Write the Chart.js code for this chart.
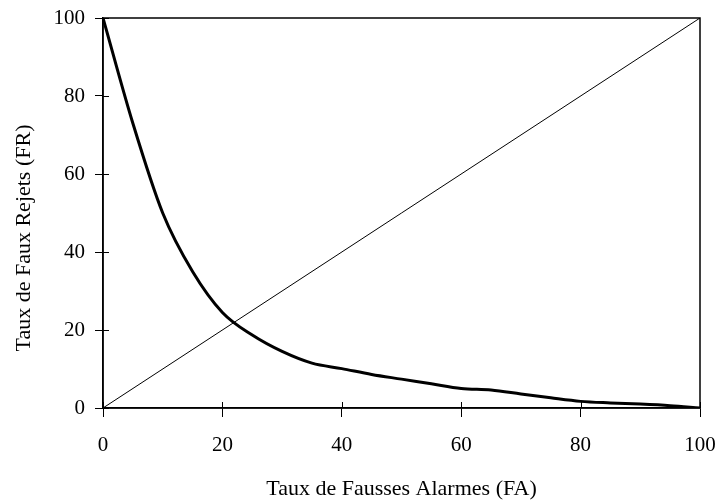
<!DOCTYPE html>
<html>
<head>
<meta charset="utf-8">
<title>Taux FA / FR</title>
<script src="https://cdn.jsdelivr.net/npm/chart.js@4/dist/chart.umd.min.js"></script>
<style>
  html, body { margin: 0; padding: 0; background: #fff; }
  #wrap { width: 719px; height: 503px; }
</style>
</head>
<body>
<div id="wrap"><canvas id="chart"></canvas></div>
<script>
  'use strict';

  // Data
  const faValues = [0, 5, 10, 15, 20, 25, 30, 35, 40, 45, 50, 55, 60, 65, 70, 75, 80, 85, 90, 95, 100];
  const frValues = [100, 73, 50, 35, 24.5, 18.7, 14.5, 11.5, 10.1, 8.6, 7.4, 6.2, 5.0, 4.6, 3.6, 2.6, 1.7, 1.3, 1.0, 0.6, 0];
  const diagonalX = [0, 100];
  const diagonalY = [0, 100];
  const tickValues = [0, 20, 40, 60, 80, 100];
  const yTitle = 'Taux de Faux Rejets (FR)';
  const xTitle = 'Taux de Fausses Alarmes (FA)';

  const font = 'Liberation Serif, Times New Roman, serif';

  // Frame around the plot area, short inner tick marks, and the y title
  const framePlugin = {
    id: 'frame',
    afterDatasetsDraw(chart) {
      const { ctx, chartArea: a, scales } = chart;
      ctx.save();
      ctx.strokeStyle = '#000';
      ctx.lineWidth = 1.5;
      ctx.strokeRect(a.left, a.top, a.right - a.left, a.bottom - a.top);
      ctx.lineWidth = 1;
      ctx.beginPath();
      tickValues.forEach((v) => {
        const x = Math.round(scales.x.getPixelForValue(v)) + 0.5;
        ctx.moveTo(x, a.bottom);
        ctx.lineTo(x, a.bottom - 6);
        const y = Math.round(scales.y.getPixelForValue(v)) + 0.5;
        ctx.moveTo(a.left, y);
        ctx.lineTo(a.left + 6, y);
      });
      ctx.stroke();

      // y axis title sits a bit below the middle of the axis in the reference
      ctx.translate(24, 238);
      ctx.rotate(-Math.PI / 2);
      ctx.fillStyle = '#000';
      ctx.font = '22px ' + font;
      ctx.textAlign = 'center';
      ctx.textBaseline = 'middle';
      ctx.fillText(yTitle, 0, 0);
      ctx.restore();
    }
  };

  new Chart(document.getElementById('chart'), {
    type: 'scatter',
    data: {
      datasets: [
        {
          data: faValues.map((x, i) => ({ x, y: frValues[i] })),
          showLine: true,
          borderColor: '#000',
          borderWidth: 3,
          pointRadius: 0,
          cubicInterpolationMode: 'monotone'
        },
        {
          data: diagonalX.map((x, i) => ({ x, y: diagonalY[i] })),
          showLine: true,
          borderColor: '#000',
          borderWidth: 1,
          pointRadius: 0
        }
      ]
    },
    options: {
      responsive: true,
      maintainAspectRatio: false,
      animation: false,
      layout: { padding: { top: 18, right: 19, left: 0, bottom: 0 } },
      plugins: {
        legend: { display: false },
        tooltip: { enabled: false }
      },
      scales: {
        x: {
          type: 'linear',
          min: 0,
          max: 100,
          afterBuildTicks: (s) => { s.ticks = tickValues.map((v) => ({ value: v })); },
          afterFit: (s) => {
            s.height = 95;
            s.paddingLeft = 0;
            s.paddingRight = 0;
          },
          border: { color: '#000', width: 1.5 },
          grid: { drawOnChartArea: false, color: '#000', tickLength: 9 },
          ticks: { color: '#000', font: { family: font, size: 21 }, padding: 16, maxRotation: 0 },
          title: {
            display: true,
            text: xTitle,
            color: '#000',
            font: { family: font, size: 22 },
            padding: { top: 0, bottom: 1 }
          }
        },
        y: {
          type: 'linear',
          min: 0,
          max: 100,
          afterBuildTicks: (s) => { s.ticks = tickValues.map((v) => ({ value: v })); },
          afterFit: (s) => {
            s.width = 103;
            s.paddingTop = 0;
            s.paddingBottom = 0;
          },
          border: { color: '#000', width: 1.5 },
          grid: { drawOnChartArea: false, color: '#000', tickLength: 8 },
          ticks: { color: '#000', font: { family: font, size: 21 }, padding: 10 }
        }
      }
    },
    plugins: [framePlugin]
  });
</script>
</body>
</html>
